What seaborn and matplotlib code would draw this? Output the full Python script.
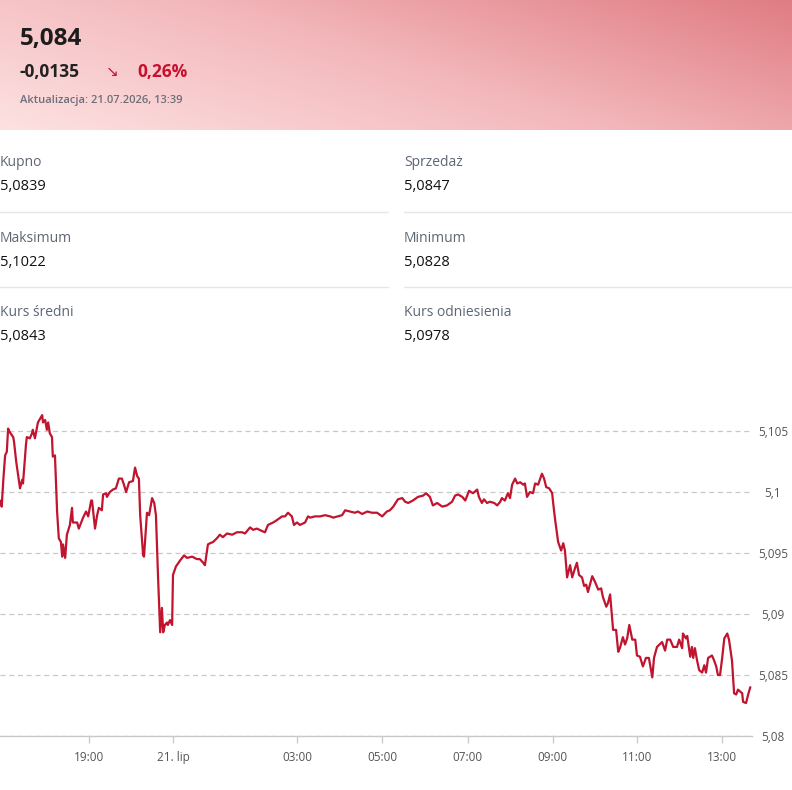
import numpy as np
import pandas as pd
import matplotlib
matplotlib.use("Agg")
import matplotlib.pyplot as plt
import seaborn as sns
from matplotlib.colors import LinearSegmentedColormap

# kurs EUR/PLN - czas na osi w "godzinach sesji" (bez przerwy nocnej)
czas = [0.00, 0.04, 0.08, 0.12, 0.16, 0.19, 0.23, 0.31, 0.33, 0.38, 0.40, 0.47, 0.52, 0.54, 0.61,
        0.63, 0.70, 0.75, 0.77, 0.82, 0.89, 0.99, 1.01, 1.06, 1.10, 1.13, 1.17, 1.22, 1.24, 1.29,
        1.34, 1.38, 1.43, 1.46, 1.48, 1.53, 1.57, 1.64, 1.69, 1.71, 1.81, 1.85, 1.95, 2.02, 2.07,
        2.14, 2.16, 2.23, 2.28, 2.32, 2.39, 2.42, 2.49, 2.51, 2.58, 2.65, 2.72, 2.79, 2.86, 2.91,
        2.96, 3.03, 3.12, 3.17, 3.22, 3.26, 3.29, 3.36, 3.38, 3.45, 3.50, 3.57, 3.62, 3.66, 3.71,
        3.76, 3.80, 3.83, 3.87, 3.92, 3.94, 3.99, 4.04, 4.06, 4.13, 4.23, 4.32, 4.39, 4.51, 4.62,
        4.69, 4.77, 4.81, 4.88, 4.93, 5.00, 5.09, 5.16, 5.23, 5.33, 5.45, 5.56, 5.68, 5.75, 5.87,
        5.94, 6.03, 6.15, 6.22, 6.29, 6.41, 6.50, 6.62, 6.69, 6.76, 6.85, 6.90, 6.97, 7.04, 7.16,
        7.23, 7.28, 7.39, 7.51, 7.63, 7.75, 7.82, 7.93, 8.03, 8.10, 8.22, 8.33, 8.40, 8.50, 8.62,
        8.73, 8.85, 8.97, 9.08, 9.15, 9.23, 9.34, 9.44, 9.51, 9.58, 9.69, 9.81, 9.93, 10.00, 10.09,
        10.16, 10.26, 10.38, 10.49, 10.61, 10.68, 10.75, 10.85, 10.92, 11.01, 11.10, 11.20, 11.24,
        11.31, 11.36, 11.43, 11.50, 11.60, 11.67, 11.74, 11.78, 11.85, 11.92, 11.97, 12.02, 12.09,
        12.14, 12.21, 12.28, 12.32, 12.37, 12.44, 12.51, 12.56, 12.63, 12.72, 12.77, 12.82, 12.89,
        12.96, 12.98, 13.03, 13.10, 13.17, 13.22, 13.26, 13.31, 13.38, 13.43, 13.50, 13.54, 13.59,
        13.66, 13.71, 13.76, 13.80, 13.90, 13.97, 14.04, 14.11, 14.15, 14.23, 14.27, 14.32, 14.39,
        14.46, 14.51, 14.55, 14.62, 14.67, 14.72, 14.77, 14.84, 14.91, 14.95, 15.02, 15.09, 15.16,
        15.23, 15.31, 15.35, 15.42, 15.54, 15.61, 15.66, 15.73, 15.80, 15.89, 15.94, 16.01, 16.03,
        16.10, 16.13, 16.20, 16.24, 16.27, 16.31, 16.36, 16.41, 16.48, 16.53, 16.57, 16.62, 16.71,
        16.76, 16.81, 16.85, 16.90, 16.95, 17.00, 17.07, 17.11, 17.18, 17.23, 17.28, 17.32, 17.42,
        17.44, 17.51, 17.56, 17.61]
kurs = [5.0993, 5.0988, 5.1011, 5.1030, 5.1033, 5.1052, 5.1049, 5.1045, 5.1041, 5.1025, 5.1020,
        5.1003, 5.1010, 5.1007, 5.1039, 5.1045, 5.1044, 5.1048, 5.1051, 5.1044, 5.1057, 5.1063,
        5.1057, 5.1059, 5.1051, 5.1057, 5.1048, 5.1045, 5.1029, 5.1030, 5.0984, 5.0962, 5.0959,
        5.0947, 5.0957, 5.0946, 5.0965, 5.0973, 5.0987, 5.0975, 5.0975, 5.0970, 5.0979, 5.0984,
        5.0980, 5.0993, 5.0993, 5.0970, 5.0981, 5.0987, 5.0985, 5.0998, 5.0999, 5.0996, 5.1000,
        5.1002, 5.1003, 5.1011, 5.1011, 5.1006, 5.1000, 5.1008, 5.1009, 5.1020, 5.1013, 5.1011,
        5.0981, 5.0948, 5.0947, 5.0983, 5.0981, 5.0995, 5.0991, 5.0981, 5.0930, 5.0885, 5.0905,
        5.0885, 5.0891, 5.0893, 5.0891, 5.0895, 5.0891, 5.0932, 5.0939, 5.0944, 5.0948, 5.0946,
        5.0947, 5.0945, 5.0945, 5.0942, 5.0940, 5.0957, 5.0958, 5.0959, 5.0962, 5.0965, 5.0963,
        5.0966, 5.0965, 5.0967, 5.0967, 5.0966, 5.0971, 5.0969, 5.0970, 5.0968, 5.0967, 5.0973,
        5.0975, 5.0977, 5.0980, 5.0980, 5.0983, 5.0980, 5.0973, 5.0975, 5.0973, 5.0975, 5.0980,
        5.0979, 5.0980, 5.0980, 5.0981, 5.0980, 5.0979, 5.0980, 5.0981, 5.0985, 5.0984, 5.0983,
        5.0984, 5.0982, 5.0984, 5.0983, 5.0983, 5.0980, 5.0984, 5.0985, 5.0988, 5.0994, 5.0995,
        5.0992, 5.0991, 5.0993, 5.0996, 5.0997, 5.0999, 5.0996, 5.0989, 5.0991, 5.0988, 5.0989,
        5.0992, 5.0997, 5.0998, 5.0996, 5.0993, 5.1001, 5.0999, 5.1002, 5.0996, 5.0991, 5.0994,
        5.0991, 5.0992, 5.0991, 5.0989, 5.0992, 5.0995, 5.0993, 5.0999, 5.0995, 5.1006, 5.1011,
        5.1007, 5.1008, 5.1006, 5.1007, 5.0996, 5.1000, 5.0999, 5.1007, 5.1006, 5.1015, 5.1011,
        5.1004, 5.1003, 5.0999, 5.0992, 5.0977, 5.0959, 5.0952, 5.0958, 5.0952, 5.0930, 5.0940,
        5.0930, 5.0938, 5.0942, 5.0932, 5.0930, 5.0923, 5.0924, 5.0918, 5.0931, 5.0926, 5.0920,
        5.0921, 5.0914, 5.0906, 5.0909, 5.0916, 5.0887, 5.0887, 5.0869, 5.0872, 5.0881, 5.0875,
        5.0880, 5.0891, 5.0879, 5.0879, 5.0866, 5.0865, 5.0857, 5.0864, 5.0864, 5.0848, 5.0864,
        5.0873, 5.0877, 5.0870, 5.0879, 5.0879, 5.0873, 5.0873, 5.0879, 5.0872, 5.0884, 5.0880,
        5.0882, 5.0865, 5.0873, 5.0864, 5.0872, 5.0862, 5.0854, 5.0852, 5.0858, 5.0852, 5.0864,
        5.0866, 5.0862, 5.0857, 5.0850, 5.0850, 5.0864, 5.0880, 5.0884, 5.0879, 5.0862, 5.0835,
        5.0834, 5.0838, 5.0835, 5.0828, 5.0827, 5.0834, 5.0840]

tick_pos = [2.1, 4.06, 6.98, 8.97, 10.98, 12.97, 14.95, 16.95]
tick_labels = ["19:00", "21. lip", "03:00", "05:00", "07:00", "09:00", "11:00", "13:00"]
y_ticks = [5.08, 5.085, 5.09, 5.095, 5.1, 5.105]
y_labels = ["5,08", "5,085", "5,09", "5,095", "5,1", "5,105"]

stat_names = ["Kupno", "Sprzedaż", "Maksimum", "Minimum", "Kurs średni", "Kurs odniesienia"]
stat_values = ["5,0839", "5,0847", "5,1022", "5,0828", "5,0843", "5,0978"]

df = pd.DataFrame({"czas": czas, "kurs": kurs})

sns.set_style("white")
plt.rcParams["font.family"] = ["Open Sans", "DejaVu Sans"]

W, H = 792, 790
fig = plt.figure(figsize=(W / 100, H / 100), dpi=100)

def fx(px):
    return px / W

def fy(py):
    return 1 - py / H

# naglowek z gradientem
hdr = fig.add_axes([0, fy(130), 1, 130 / H])
gx, gy = np.meshgrid(np.linspace(0, 1, 300), np.linspace(0, 1, 60))
grad = 0.65 * gx + 0.35 * gy
cmap = LinearSegmentedColormap.from_list("pink", ["#fde1e1", "#f3b8bc", "#e07d83"])
hdr.imshow(grad, cmap=cmap, aspect="auto", origin="lower", extent=[0, 1, 0, 1])
hdr.axis("off")

fig.text(fx(20), fy(39), "5,084", fontsize=17.5, fontweight="bold", color="#1c1c1c", va="center")
fig.text(fx(20), fy(72), "-0,0135", fontsize=12.5, fontweight="bold", color="#222222", va="center")
fig.text(fx(106), fy(71), "↘", fontsize=11, color="#c8102e", va="center",
         family=["DejaVu Sans"])
fig.text(fx(137), fy(72), "0,26%", fontsize=12.5, fontweight="bold", color="#c8102e", va="center")
fig.text(fx(20), fy(101), "Aktualizacja: 21.07.2026, 13:39", fontsize=8, fontweight="semibold",
         color="#6e6e78", va="center")

# tabela kursow
rows_y = [163, 238, 312]
for i, name in enumerate(stat_names):
    col = i % 2
    row = i // 2
    x0 = 0 if col == 0 else 404
    fig.text(fx(x0), fy(rows_y[row]), name, fontsize=10, color="#5d6673", va="center")
    fig.text(fx(x0), fy(rows_y[row] + 24), stat_values[i], fontsize=10.5, color="#111111", va="center")

for sy in [212, 287]:
    fig.add_artist(plt.Line2D([0, fx(388)], [fy(sy), fy(sy)], color="#e6e6e6", lw=1))
    fig.add_artist(plt.Line2D([fx(404), 1], [fy(sy), fy(sy)], color="#e6e6e6", lw=1))

# wykres
ax = fig.add_axes([0, fy(736), fx(752), (736 - 400) / H])
sns.lineplot(data=df, x="czas", y="kurs", ax=ax, color="#c0142f", linewidth=1.6)
ax.set_xlim(0, 17.65)
ax.set_ylim(5.08, 5.08 + 336 / 12200)
ax.set_xlabel("")
ax.set_ylabel("")

ax.set_yticks(y_ticks)
ax.set_yticklabels(y_labels)
ax.yaxis.tick_right()
ax.tick_params(axis="y", length=0, pad=15, labelsize=8.5, labelcolor="#555555")
for lab in ax.get_yticklabels():
    lab.set_horizontalalignment("center")

ax.set_xticks(tick_pos)
ax.set_xticklabels(tick_labels)
ax.tick_params(axis="x", length=5, width=1, color="#cccccc", pad=6, labelsize=8.5,
               labelcolor="#555555", bottom=True)

ax.grid(axis="y", color="#c8c8c8", linestyle=(0, (4, 3)), linewidth=0.9)
for s in ["top", "left", "right"]:
    ax.spines[s].set_visible(False)
ax.spines["bottom"].set_color("#c8c8c8")
ax.spines["bottom"].set_linewidth(1)

fig.savefig("out.png", dpi=100)
